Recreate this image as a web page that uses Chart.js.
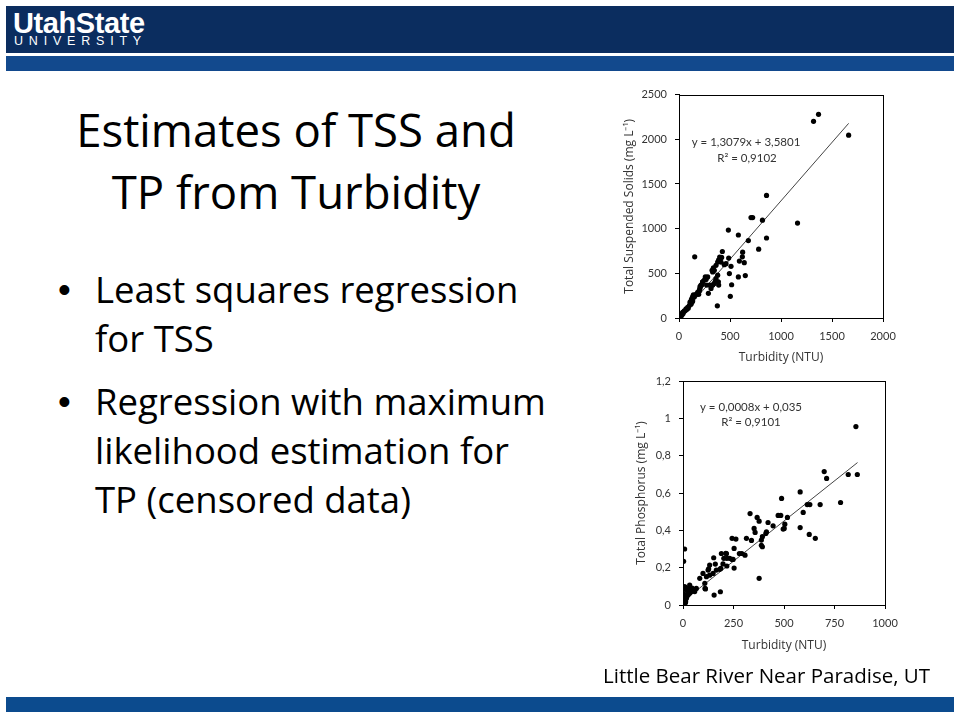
<!DOCTYPE html>
<html>
<head>
<meta charset="utf-8">
<script src="https://cdn.jsdelivr.net/npm/chart.js@4.4.1/dist/chart.umd.min.js"></script>
<style>
  body { margin: 0; background: #fff; font-family: "Open Sans", Lato, sans-serif; }
  .slide { position: relative; width: 960px; height: 720px; overflow: hidden; background: #fff; }
  .band-dark { position: absolute; left: 6px; top: 6px; width: 948px; height: 47px; background: #0b2d5f; }
  .band-light { position: absolute; left: 6px; top: 56px; width: 948px; height: 15px; background: #12498d; }
  .band-bottom { position: absolute; left: 6px; top: 697px; width: 948px; height: 15px; background: #0c4b8e; }
  .logo1 { position: absolute; left: 13px; top: 7px; color: #fff; font: bold 29px "Liberation Sans", Arial, sans-serif; letter-spacing: -0.4px; }
  .logo2 { position: absolute; left: 14px; top: 34px; color: #fff; font: 12.5px "Liberation Sans", Arial, sans-serif; letter-spacing: 5.8px; }
  h1 { position: absolute; left: 0; top: 98px; width: 592px; margin: 0; text-align: center; font-weight: normal; font-size: 45.5px; line-height: 62px; color: #000; }
  ul { position: absolute; left: 56px; top: 265px; margin: 0; padding: 0; list-style: none; font-size: 36.5px; line-height: 49px; color: #000; }
  li { position: relative; padding-left: 39px; margin-bottom: 14px; }
  li::before { content: "\2022"; position: absolute; left: 2px; top: 0; font-family: "Liberation Sans", Arial, sans-serif; }
  .chart { position: absolute; width: 310px; height: 290px; }
  #tss-box { left: 600px; top: 80px; }
  #tp-box { left: 600px; top: 365px; }
  .caption { position: absolute; left: 603px; top: 661px; font-size: 20.5px; color: #000; }
</style>
</head>
<body>
<div class="slide">
  <div class="band-dark"></div>
  <div class="logo1">UtahState</div>
  <div class="logo2">UNIVERSITY</div>
  <div class="band-light"></div>
  <h1>Estimates of TSS and<br>TP from Turbidity</h1>
  <ul>
    <li>Least squares regression<br>for TSS</li>
    <li>Regression with maximum<br>likelihood estimation for<br>TP (censored data)</li>
  </ul>
  <div class="chart" id="tss-box"><canvas id="tss" width="310" height="290"></canvas></div>
  <div class="chart" id="tp-box"><canvas id="tp" width="310" height="290"></canvas></div>
  <div class="caption">Little Bear River Near Paradise, UT</div>
  <div class="band-bottom"></div>
</div>
<script>
// TSS vs turbidity
let tssTurbidity = [
  1368, 1319, 1663, 858, 706, 722, 818, 1162, 484, 582, 858, 680, 781, 154,
  425, 399, 389, 379, 418, 487, 624, 621, 592, 640, 510, 461, 444, 363, 324, 335,
  494, 582, 650, 516, 386, 389, 327, 300, 503, 376, 288, 258, 265, 232, 216, 206,
  199, 183, 134, 121, 127,
  3, 1, 0, 10, 20, 36, 30, 52, 69, 85, 101, 118, 108, 134, 127, 150, 141, 167,
  183, 199, 206, 193, 216, 226, 232, 248, 265, 281, 271, 314, 330, 346, 356, 363,
  379, 346, 330, 337, 412,
  5, 8, 12, 15, 20, 25, 40, 45, 60, 75, 90, 14, 18, 6
];
let tssValues = [
  2279, 2201, 2046, 1372, 1124, 1124, 1095, 1062, 984, 929, 895, 866, 770, 685,
  744, 682, 652, 626, 678, 671, 737, 685, 637, 619, 578, 608, 597, 589, 534, 525,
  497, 460, 475, 372, 405, 368, 368, 368, 243, 136, 276, 460, 431, 405, 368, 350,
  313, 276, 239, 202, 176,
  18, 10, 5, 7, 47, 62, 36, 81, 103, 118, 140, 154, 177, 191, 221, 239, 258, 265,
  287, 302, 331, 265, 361, 376, 405, 424, 442, 460, 368, 331, 368, 387, 412, 442,
  479, 534, 516, 560, 626,
  8, 15, 20, 12, 30, 40, 50, 70, 80, 95, 110, 26, 4, 28
];
let tssLineX = [0, 1663];
let tssLineY = [3.6, 2178];
let tssXTicks = [0, 500, 1000, 1500, 2000];
let tssYTicks = [0, 500, 1000, 1500, 2000, 2500];

// TP vs turbidity
let tpTurbidity = [
  856, 699, 711, 818, 863, 580, 780, 679, 615, 628, 595, 488, 471, 484, 332, 367,
  377, 421, 446, 517, 504, 501, 496, 580, 625, 655, 352, 357, 410, 393, 388, 393,
  388, 413, 314, 339, 243, 262, 253, 279, 291, 307, 215, 217, 190, 152, 160, 127,
  253, 217, 243, 187, 8, 3, 377, 154, 185, 109, 83, 99, 116, 132, 149, 33, 13,
  8, 17, 25, 41, 50, 0, 8, 17, 0, 3, 13, 25, 33, 58, 66, 108, 124, 132, 165, 182,
  198, 212, 202, 231, 248, 111, 5, 10, 20, 30, 45, 2, 6, 12, 22
];
let tpValues = [
  0.956, 0.715, 0.678, 0.699, 0.699, 0.606, 0.549, 0.538, 0.538, 0.538, 0.496, 0.571, 0.48, 0.48, 0.49, 0.469,
  0.449, 0.442, 0.424, 0.469, 0.433, 0.41, 0.407, 0.415, 0.378, 0.357, 0.41, 0.389, 0.383, 0.366, 0.348, 0.312,
  0.32, 0.392, 0.357, 0.346, 0.357, 0.353, 0.303, 0.276, 0.276, 0.267, 0.275, 0.25, 0.276, 0.253, 0.219, 0.193,
  0.198, 0.209, 0.244, 0.196, 0.3, 0.234, 0.143, 0.053, 0.071, 0.089, 0.143, 0.169, 0.152, 0.16, 0.169, 0.107, 0.093,
  0.098, 0.08, 0.089, 0.072, 0.08, 0.063, 0.045, 0.036, 0.027, 0.009, 0.018, 0.054, 0.063, 0.072, 0.089, 0.116, 0.187, 0.214, 0.187, 0.191,
  0.22, 0.277, 0.25, 0.25, 0.244, 0.086, 0.02, 0.04, 0.05, 0.07, 0.09, 0.005, 0.03, 0.012, 0.06
];
let tpLineX = [0, 864];
let tpLineY = [0.02, 0.763];
let tpXTicks = [0, 250, 500, 750, 1000];
let tpYTicks = [0, 0.2, 0.4, 0.6, 0.8, 1, 1.2];

let tickFont = { family: "Lato", size: 11 };
let titleFont = { family: "Open Sans", size: 12 };
let inkColor = "#333";

let pairs = function (xs, ys) {
  return xs.map((x, i) => ({ x: x, y: ys[i] }));
};

let commaFormat = function (v) {
  return String(v).replace(".", ",");
};

// frame around plot area + equation text (Excel-like)
let framePlugin = {
  id: "frame",
  afterDraw: function (chart, args, opts) {
    let a = chart.chartArea;
    let ctx = chart.ctx;
    ctx.save();
    ctx.strokeStyle = "#000";
    ctx.lineWidth = 1;
    ctx.strokeRect(Math.round(a.left) + 0.5, Math.round(a.top) + 0.5, Math.round(a.width), Math.round(a.height));
    ctx.fillStyle = inkColor;
    ctx.font = "11.5px Lato";
    ctx.textAlign = "center";
    ctx.textBaseline = "middle";
    opts.lines.forEach((l) => {
      ctx.fillText(l.text, a.left + l.dx, a.top + l.dy);
    });
    ctx.restore();
  },
};

let makeChart = function (id, cfg) {
  return new Chart(document.getElementById(id), {
    type: "scatter",
    data: {
      datasets: [
        {
          data: pairs(cfg.xs, cfg.ys),
          backgroundColor: "#000",
          borderWidth: 0,
          pointRadius: 2.6,
        },
        {
          data: pairs(cfg.lineX, cfg.lineY),
          showLine: true,
          borderColor: "#444",
          borderWidth: 1,
          pointRadius: 0,
        },
      ],
    },
    options: {
      responsive: false,
      animation: false,
      layout: { padding: cfg.padding },
      plugins: {
        legend: { display: false },
        tooltip: { enabled: false },
        frame: { lines: cfg.labels },
      },
      scales: {
        x: {
          min: cfg.xTicks[0],
          max: cfg.xTicks[cfg.xTicks.length - 1],
          afterBuildTicks: (s) => { s.ticks = cfg.xTicks.map((v) => ({ value: v })); },
          afterFit: (s) => { s.height = cfg.xHeight; },
          grid: { drawOnChartArea: false, tickLength: 4, color: "#000" },
          border: { color: "#000" },
          ticks: { font: tickFont, color: inkColor, padding: 8, maxRotation: 0, callback: commaFormat },
          title: { display: true, text: "Turbidity (NTU)", font: titleFont, color: inkColor, padding: { top: 0, bottom: cfg.xTitlePad } },
        },
        y: {
          min: cfg.yTicks[0],
          max: cfg.yTicks[cfg.yTicks.length - 1],
          afterBuildTicks: (s) => { s.ticks = cfg.yTicks.map((v) => ({ value: v })); },
          afterFit: (s) => { s.width = cfg.yWidth; },
          grid: { drawOnChartArea: false, tickLength: 4, color: "#000" },
          border: { color: "#000" },
          ticks: { font: tickFont, color: inkColor, padding: 8, callback: commaFormat },
          title: { display: true, text: cfg.yTitle, font: titleFont, color: inkColor, padding: { top: cfg.yTitlePad, bottom: 0 } },
        },
      },
    },
    plugins: [framePlugin],
  });
};

makeChart("tss", {
  xs: tssTurbidity, ys: tssValues, lineX: tssLineX, lineY: tssLineY,
  xTicks: tssXTicks, yTicks: tssYTicks,
  yTitle: "Total Suspended Solids (mg L\u207B\u00B9)",
  padding: { left: 0, top: 12, right: 27, bottom: 0 },
  yWidth: 79, xHeight: 52, yTitlePad: 22, xTitlePad: 5,
  labels: [
    { text: "y = 1,3079x + 3,5801", dx: 67, dy: 48 },
    { text: "R\u00B2 = 0,9102", dx: 68, dy: 64 },
  ],
});

makeChart("tp", {
  xs: tpTurbidity, ys: tpValues, lineX: tpLineX, lineY: tpLineY,
  xTicks: tpXTicks, yTicks: tpYTicks,
  yTitle: "Total Phosphorus (mg L\u207B\u00B9)",
  padding: { left: 0, top: 16, right: 25, bottom: 0 },
  yWidth: 83, xHeight: 50, yTitlePad: 34, xTitlePad: 2,
  labels: [
    { text: "y = 0,0008x + 0,035", dx: 68, dy: 26 },
    { text: "R\u00B2 = 0,9101", dx: 68, dy: 41 },
  ],
});
</script>
</body>
</html>
